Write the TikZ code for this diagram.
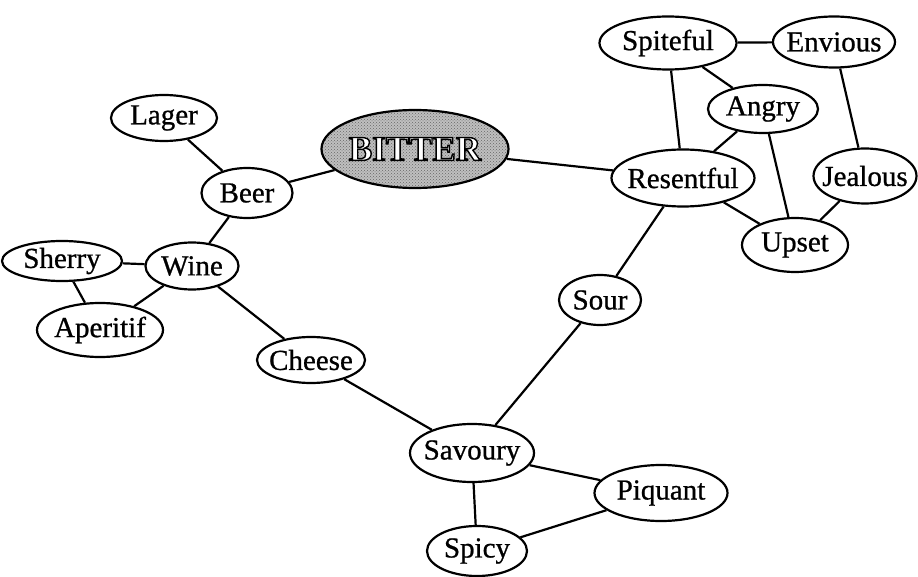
\documentclass[tikz,border=0pt]{standalone}
\usepackage{fontspec}
\setmainfont{Liberation Serif}
\newfontfamily\wordfont{Liberation Serif}[FakeBold=0.8]
\usepackage{tikz}
\usetikzlibrary{shapes.geometric,patterns}

\newcommand{\hollow}[1]{\textcolor{white}{\special{pdf:literal direct 0 G 1.4 w 2 Tr}#1\special{pdf:literal direct 0 Tr}}}

\begin{document}
\begin{tikzpicture}[x=1pt,y=-1pt,line width=2.2pt,
    word/.style={ellipse,draw,fill=white,inner xsep=-8pt,inner ysep=0pt,
                 minimum height=50pt,font=\wordfont\fontsize{29}{32}\selectfont},
    hub/.style={ellipse,draw,inner sep=0pt,minimum width=180pt,minimum height=78pt,
                preaction={fill=gray!50},pattern=crosshatch dots,pattern color=black!60,
                font=\fontsize{35}{40}\selectfont\bfseries}]

  \useasboundingbox (0,0) rectangle (918,577);

  \node[hub] (bitter) at (415,149) {\hollow{BITTER}};

  \node[word,minimum width=106,minimum height=46] (lager) at (164,118) {Lager};
  \node[word,minimum width=91] (beer) at (247,193) {Beer};
  \node[word,minimum width=93,minimum height=47] (wine) at (192,266) {Wine};
  \node[word,minimum width=120,minimum height=40] (sherry) at (62,261) {Sherry};
  \node[word,minimum width=126,minimum height=54] (aperitif) at (100,330) {Aperitif};
  \node[word,minimum width=108,minimum height=46] (cheese) at (311,360) {Cheese};
  \node[word,minimum width=124,minimum height=58] (savoury) at (472,453) {Savoury};
  \node[word,minimum width=133,minimum height=56] (piquant) at (661,493) {Piquant};
  \node[word,minimum width=100] (spicy) at (477,551) {Spicy};
  \node[word,minimum width=82] (sour) at (600,300) {Sour};

  \node[word,minimum width=143,minimum height=57] (resentful) at (683,178) {Resentful};
  \node[word,minimum width=137,minimum height=53] (spiteful) at (668,43) {Spiteful};
  \node[word,minimum width=122,minimum height=51] (envious) at (834,42) {Envious};
  \node[word,minimum width=110,minimum height=48] (angry) at (763,109) {Angry};
  \node[word,minimum width=103,minimum height=55] (jealous) at (865,176) {Jealous};
  \node[word,minimum width=106,minimum height=54] (upset) at (795,245) {Upset};

  % food side
  \draw (lager) -- (beer);
  \draw (beer) -- (bitter);
  \draw (beer) -- (wine);
  \draw (wine) -- (sherry);
  \draw (wine) -- (aperitif);
  \draw (sherry) -- (aperitif);
  \draw (wine) -- (cheese);
  \draw (cheese) -- (savoury);
  \draw (savoury) -- (sour);
  \draw (savoury) -- (piquant);
  \draw (savoury) -- (spicy);
  \draw (spicy) -- (piquant);

  % feeling side
  \draw (sour) -- (resentful);
  \draw (bitter) -- (resentful);
  \draw (resentful) -- (spiteful);
  \draw (resentful) -- (angry);
  \draw (resentful) -- (upset);
  \draw (spiteful) -- (envious);
  \draw (spiteful) -- (angry);
  \draw (angry) -- (upset);
  \draw (envious) -- (jealous);
  \draw (jealous) -- (upset);
\end{tikzpicture}
\end{document}
